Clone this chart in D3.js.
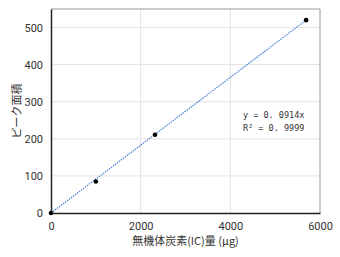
<!DOCTYPE html>
<html lang="ja">
<head>
<meta charset="UTF-8" />
<script src="https://d3js.org/d3.v7.min.js"></script>
<style>
  body { margin: 0; background: #fff; }
  svg { display: block; }
  .tick text { font-family: Roboto, "Noto Sans", sans-serif; font-size: 11px; fill: #333; }
</style>
</head>
<body>
<svg id="chart" width="340" height="257"></svg>
<script>
  // data
  const icAmount = [0, 1000, 2320, 5690];
  const peakArea = [0, 85, 211, 520];
  const slope = 0.0914;
  const xTicks = [0, 2000, 4000, 6000];
  const yTicks = [0, 100, 200, 300, 400, 500];
  const eqLines = ["y = 0. 0914x", "R² = 0. 9999"];

  const svg = d3.select("#chart");
  const margin = { top: 9, right: 20, bottom: 44, left: 51 };
  const width = +svg.attr("width");
  const height = +svg.attr("height");

  const x = d3.scaleLinear().domain([0, 6000]).range([margin.left, width - margin.right]);
  const y = d3.scaleLinear().domain([0, 550]).range([height - margin.bottom, margin.top]);

  // grid
  svg.append("g").selectAll("line").data(yTicks.slice(1)).join("line")
    .attr("x1", x(0)).attr("x2", x(6000))
    .attr("y1", d => y(d)).attr("y2", d => y(d))
    .attr("stroke", "#e3e3e3").attr("stroke-width", 1);
  svg.append("g").selectAll("line").data(xTicks.slice(1, -1)).join("line")
    .attr("x1", d => x(d)).attr("x2", d => x(d))
    .attr("y1", y(0)).attr("y2", y(550))
    .attr("stroke", "#e3e3e3").attr("stroke-width", 1);

  // frame top/right
  svg.append("path")
    .attr("d", `M${x(0)},${y(550)}H${x(6000)}V${y(0)}`)
    .attr("fill", "none").attr("stroke", "#999").attr("stroke-width", 1);

  // axes
  const xAxis = svg.append("g")
    .attr("transform", `translate(0,${y(0)})`)
    .call(d3.axisBottom(x).tickValues(xTicks).tickFormat(d3.format("d")).tickSize(0).tickPadding(9));
  xAxis.select(".domain").attr("stroke", "#222").attr("stroke-width", 1.5);

  const yAxis = svg.append("g")
    .attr("transform", `translate(${x(0)},0)`)
    .call(d3.axisLeft(y).tickValues(yTicks).tickFormat(d3.format("d")).tickSize(0).tickPadding(8));
  yAxis.select(".domain").attr("stroke", "#222").attr("stroke-width", 1.5);

  // trend line
  const xMax = d3.max(icAmount);
  svg.append("line")
    .attr("x1", x(0)).attr("y1", y(0))
    .attr("x2", x(xMax)).attr("y2", y(slope * xMax))
    .attr("stroke", "#4a7fd4").attr("stroke-width", 1.2)
    .attr("stroke-dasharray", "1.5,1");

  // points
  svg.append("g").selectAll("circle").data(icAmount).join("circle")
    .attr("cx", d => x(d))
    .attr("cy", (d, i) => y(peakArea[i]))
    .attr("r", 2.3)
    .attr("fill", "#000");

  // equation
  svg.append("g").selectAll("text").data(eqLines).join("text")
    .attr("x", 243)
    .attr("y", (d, i) => 118 + i * 12.5)
    .attr("font-family", "'DejaVu Sans Mono', monospace")
    .attr("font-size", 8.5)
    .attr("fill", "#333")
    .text(d => d);

  // axis titles
  svg.append("text")
    .attr("x", (x(0) + x(6000)) / 2)
    .attr("y", 245)
    .attr("text-anchor", "middle")
    .attr("font-family", "'Noto Sans CJK JP', sans-serif")
    .attr("font-size", 11)
    .attr("fill", "#333")
    .text("無機体炭素(IC)量 (μg)");

  svg.append("text")
    .attr("transform", `translate(21,${(y(0) + y(550)) / 2}) rotate(-90)`)
    .attr("text-anchor", "middle")
    .attr("font-family", "'Noto Sans CJK JP', sans-serif")
    .attr("font-size", 11)
    .attr("fill", "#333")
    .text("ピーク面積");
</script>
</body>
</html>
